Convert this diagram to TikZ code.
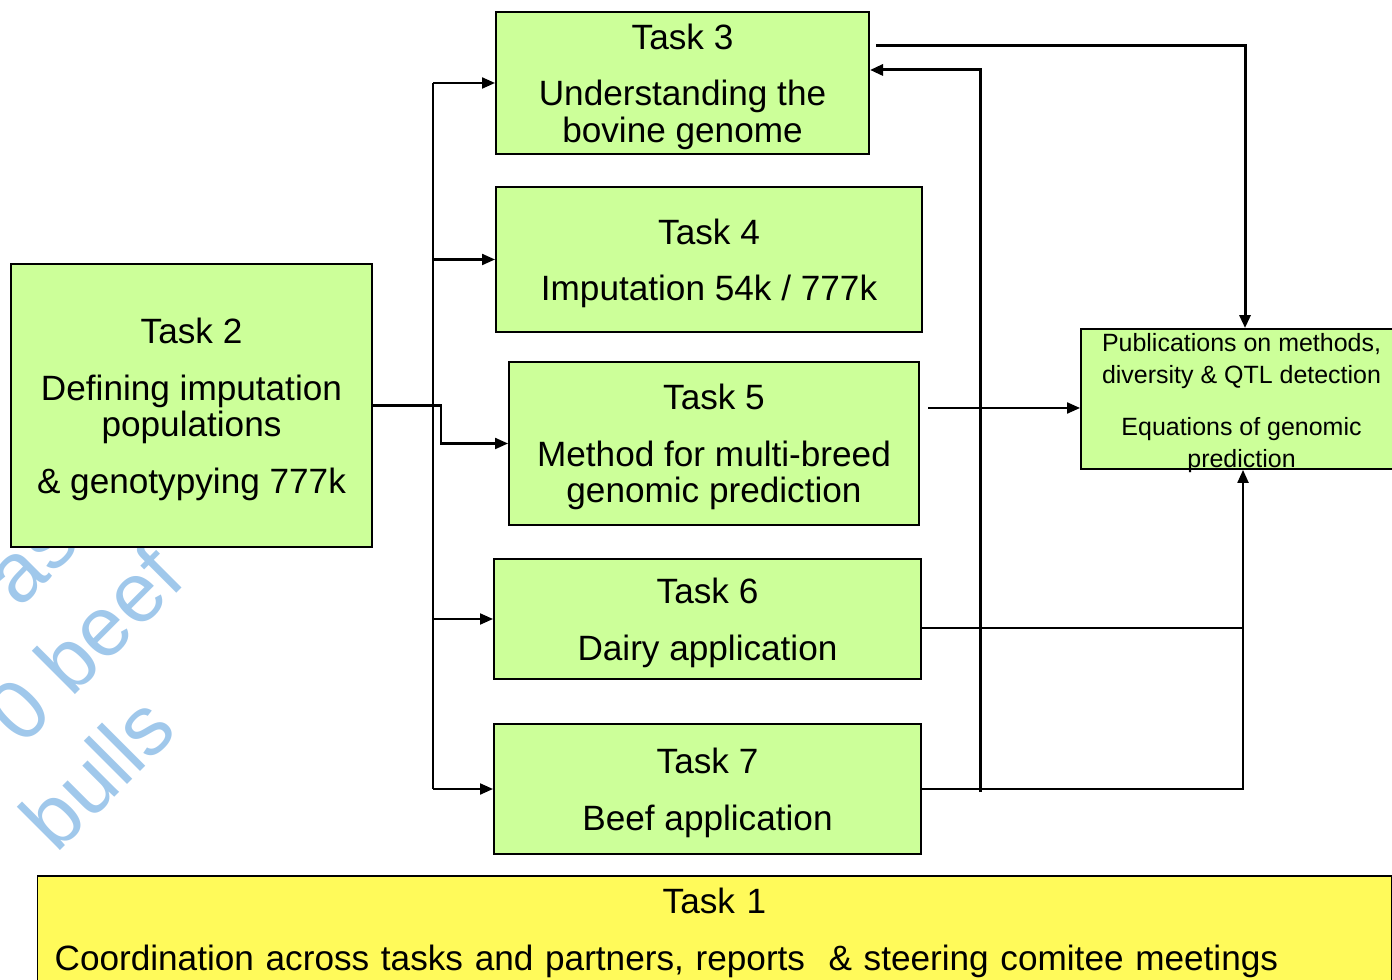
\documentclass[tikz,border=0pt]{standalone}
\usepackage{fontspec}
\setmainfont{Liberation Sans}
\usepackage{tikz}
\usetikzlibrary{arrows.meta}
\usetikzlibrary{positioning}

\definecolor{taskgreen}{RGB}{204,255,153}
\definecolor{taskyellow}{RGB}{255,250,90}
\definecolor{wordart}{RGB}{160,200,235}

\newcommand{\tasktop}{\rule{0pt}{9.4pt}}
\newcommand{\pubtop}{\rule{0pt}{6.1pt}}

\tikzset{
    taskbox/.style={draw=black, line width=0.5pt, fill=taskgreen, align=center, inner sep=0pt,
        font=\fontsize{10}{10.4}\selectfont},
    outbox/.style={taskbox, font=\fontsize{7.1}{9.1}\selectfont, text depth=0pt},
    coordbox/.style={taskbox, fill=taskyellow},
    link/.style={line width=0.6pt},
    linkarrow/.style={link, -{Triangle[length=1.3mm,width=1.1mm]}},
    heavyarrow/.style={linkarrow, line width=0.85pt},
    wordarttext/.style={text=wordart, rotate=45, inner sep=0pt, align=left, font=\fontsize{24}{28.5}\selectfont}
}

\begin{document}
\begin{tikzpicture}[x=0.01cm, y=-0.01cm]
            \useasboundingbox (0,0) rectangle (1392,980);

            \node[wordarttext] (wm) at (68,664) {\hspace*{1.47cm}ast\\\hspace*{0.51cm}0 beef\\bulls};

            \node[taskbox, minimum width=3.61cm, minimum height=2.83cm] (t2) at (191.5,405.5)
                {\tasktop Task 2\\[0.2cm]Defining imputation\\populations\\[0.2cm]\& genotypying 777k};
            \node[taskbox, minimum width=3.73cm, minimum height=1.42cm] (t3) at (682.5,83)
                {\tasktop Task 3\\[0.2cm]Understanding the\\bovine genome};
            \node[taskbox, minimum width=4.26cm, minimum height=1.45cm] (t4) at (709,259.5)
                {\tasktop Task 4\\[0.2cm]Imputation 54k / 777k};
            \node[taskbox, minimum width=4.10cm, minimum height=1.63cm] (t5) at (714,443.5)
                {\tasktop Task 5\\[0.2cm]Method for multi-breed\\genomic prediction};
            \node[taskbox, minimum width=4.27cm, minimum height=1.20cm] (t6) at (707.5,619)
                {\tasktop Task 6\\[0.2cm]Dairy application};
            \node[taskbox, minimum width=4.27cm, minimum height=1.30cm] (t7) at (707.5,789)
                {\tasktop Task 7\\[0.2cm]Beef application};
            \node[outbox, minimum width=3.21cm, minimum height=1.40cm] (pub) at (1241.5,399)
                {\pubtop Publications on methods,\\diversity \& QTL detection\\[0.2cm]Equations of genomic\\prediction};
            \node[coordbox, minimum width=13.53cm, minimum height=1.14cm, text width=13.19cm] (t1) at (714.5,933)
                {Task 1\\[0.2cm]Coordination across tasks and partners, reports\ \ \& steering comitee meetings\hfill\mbox{}};

            \coordinate (bus) at (433,0);
            \draw[link] (bus |- t3.west) -- (bus |- t7.west);
            \foreach \t in {t3,t4,t6,t7}
                \draw[linkarrow] (bus |- \t.west) -- (\t.west);
            \draw[linkarrow] (t2.east) -- ++(68,0) |- (t5.west);

            \draw[heavyarrow] ([xshift=0.06cm,yshift=-0.34cm]t3.north east) -| ([xshift=0.035cm]pub.north);
            \coordinate (back) at (980,792);
            \draw[heavyarrow] (back) |- ([yshift=0.13cm]t3.east);

            \coordinate (p5) at (928,408);
            \draw[linkarrow] (p5) -- (p5 -| pub.west);
            \draw[link] ([yshift=-0.09cm]t6.east) -- ([yshift=-0.09cm]t6.east -| 1243,0);
            \draw[linkarrow] (t7.east) -| ([xshift=0.015cm]pub.south);
\end{tikzpicture}
\end{document}
